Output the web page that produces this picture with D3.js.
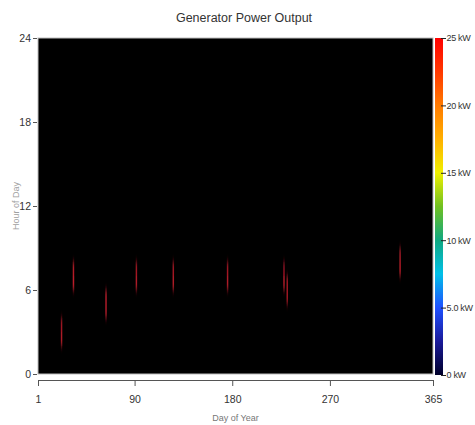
<!DOCTYPE html>
<html>
<head>
<meta charset="utf-8">
<script src="https://cdn.jsdelivr.net/npm/d3@7"></script>
<style>
  body { margin: 0; background: #fff; }
  svg text { font-family: "Liberation Sans", Arial, sans-serif; }
  .axis path, .axis line { stroke: #555; }
  .axis text { fill: #333; font-size: 10.5px; }
</style>
</head>
<body>
<div id="chart"></div>
<script>
// generator runs: day of year, first hour, hourly output (kW)
let runDays = [22, 33, 63, 91, 125, 175, 227, 230, 334]
let runStart = [2, 6, 4, 6, 6, 6, 6, 5, 7]
let runValues = [
    [10, 9],
    [11, 10],
    [10, 10],
    [10, 9],
    [10, 9],
    [10, 9],
    [10, 8],
    [9, 9],
    [10, 9]
]

let dayTicks = [1, 90, 180, 270, 365]
let hourTicks = [0, 6, 12, 18, 24]
let kwTicks = [0, 5, 10, 15, 20, 25]
let kwColors = ["#00002a", "#1a1a9a", "#1e50ff", "#00c0e8", "#10a880", "#70c020", "#f0f000", "#ffb000", "#ff7a00", "#ff3800", "#ff0000"]

var W = 475, H = 425;
var margin = { top: 38, right: 42, bottom: 51, left: 38 };

var svg = d3.select("#chart").append("svg")
    .attr("width", W)
    .attr("height", H);

var x = d3.scaleLinear().domain([1, 365]).range([margin.left, W - margin.right]);
var y = d3.scaleLinear().domain([0, 24]).range([H - margin.bottom, margin.top]);

// flatten runs into cells
var cells = [];
runDays.forEach(function(d, i) {
    runValues[i].forEach(function(v, j) {
        cells.push({ day: d, hour: runStart[i] + j, kw: v });
    });
});

var cellColor = d3.scaleLinear().domain([0, 11]).range(["#000000", "#c01e2c"]);

var defs = svg.append("defs");
defs.append("filter")
    .attr("id", "glow")
    .attr("x", "-200%").attr("y", "-50%")
    .attr("width", "500%").attr("height", "200%")
    .append("feGaussianBlur")
    .attr("stdDeviation", "0.7 3.5");

defs.append("clipPath").attr("id", "plotclip")
    .append("rect")
    .attr("x", x(1)).attr("y", y(24))
    .attr("width", x(365) - x(1)).attr("height", y(0) - y(24));

// plot background
svg.append("rect")
    .attr("x", x(1))
    .attr("y", y(24))
    .attr("width", x(365) - x(1))
    .attr("height", y(0) - y(24))
    .attr("fill", "#000")
    .attr("stroke", "#bdbdbd")
    .attr("stroke-width", 1);

svg.append("g")
    .attr("clip-path", "url(#plotclip)")
    .append("g")
    .attr("filter", "url(#glow)")
    .selectAll("rect.cell")
    .data(cells)
    .enter().append("rect")
    .attr("class", "cell")
    .attr("x", function(d) { return x(d.day); })
    .attr("y", function(d) { return y(d.hour + 1); })
    .attr("width", x(2) - x(1) + 0.4)
    .attr("height", y(0) - y(1))
    .attr("fill", function(d) { return cellColor(d.kw); });

// left axis
var yAxis = svg.append("g")
    .attr("class", "axis")
    .attr("transform", "translate(" + (x(1) - 1) + ",0)")
    .call(d3.axisLeft(y).tickValues(hourTicks).tickSize(4).tickPadding(2).tickSizeOuter(0));
yAxis.select(".domain").remove();

svg.append("text")
    .attr("transform", "translate(19," + ((y(0) + y(24)) / 2) + ") rotate(-90)")
    .style("text-anchor", "middle")
    .style("font-size", "9px")
    .style("fill", "#a0a0a0")
    .text("Hour of Day");

// bottom axis, set apart from the plot
svg.append("g")
    .attr("class", "axis")
    .attr("transform", "translate(0," + (y(0) + 6) + ")")
    .call(d3.axisBottom(x).tickValues(dayTicks).tickSize(6).tickPadding(10).tickSizeOuter(0).tickFormat(d3.format("d")));

svg.append("text")
    .attr("x", (x(1) + x(365)) / 2)
    .attr("y", 421)
    .style("text-anchor", "middle")
    .style("font-size", "9px")
    .style("fill", "#777")
    .text("Day of Year");

// title
svg.append("text")
    .attr("x", 244)
    .attr("y", 22)
    .style("text-anchor", "middle")
    .style("font-size", "12.5px")
    .style("fill", "#333")
    .text("Generator Power Output");

// colour bar
var kw = d3.scaleLinear().domain([0, 25]).range([y(0) + 1, y(24)]);
var grad = defs.append("linearGradient")
    .attr("id", "kwgrad")
    .attr("x1", "0%").attr("y1", "100%")
    .attr("x2", "0%").attr("y2", "0%");
grad.selectAll("stop")
    .data(kwColors)
    .enter().append("stop")
    .attr("offset", function(d, i) { return i / (kwColors.length - 1); })
    .attr("stop-color", function(d) { return d; });

var barX = x(365) + 2;
svg.append("rect")
    .attr("x", barX)
    .attr("y", kw(25))
    .attr("width", 8)
    .attr("height", kw(0) - kw(25))
    .style("fill", "url(#kwgrad)");

var kwAxis = svg.append("g")
    .attr("class", "axis")
    .attr("transform", "translate(" + (barX + 8) + ",0)")
    .call(d3.axisRight(kw).tickValues(kwTicks).tickSize(3).tickPadding(0.5)
        .tickFormat(function(d) { return (d == 5 ? "5.0" : d) + " kW"; }));
kwAxis.select(".domain").remove();
kwAxis.selectAll("line").attr("x1", -2).style("stroke", "#222");
kwAxis.selectAll("text").style("font-size", "9px").style("letter-spacing", "-0.3px");
</script>
</body>
</html>
